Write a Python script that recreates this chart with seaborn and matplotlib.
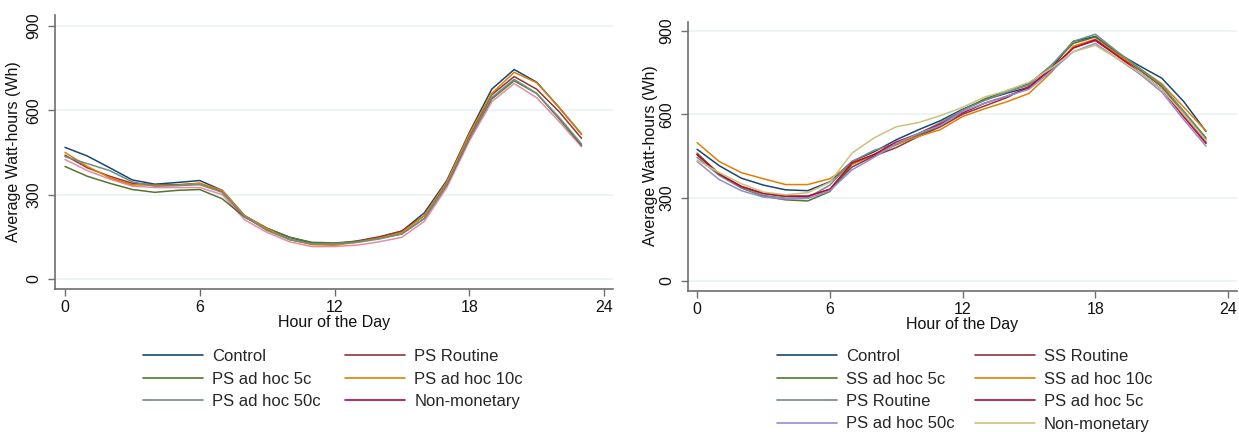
import numpy as np
import pandas as pd
import matplotlib
matplotlib.use("Agg")
import matplotlib.pyplot as plt
import seaborn as sns
from matplotlib.lines import Line2D

hours = list(range(24))

# Left panel (PS treatments)
left_labels = ["Control", "PS Routine", "PS ad hoc 5c", "PS ad hoc 10c", "PS ad hoc 50c", "Non-monetary"]
left_control = [468, 437, 395, 352, 337, 343, 350, 315, 225, 180, 148, 128, 125, 133, 148, 170, 235, 350, 520, 675, 745, 700, 610, 515]
left_ps_routine = [440, 395, 365, 340, 335, 335, 340, 310, 220, 175, 140, 125, 125, 135, 150, 170, 225, 340, 505, 655, 720, 675, 595, 500]
left_ps_5c = [400, 365, 340, 318, 308, 315, 318, 285, 220, 180, 148, 130, 128, 133, 145, 160, 215, 335, 500, 640, 705, 660, 570, 475]
left_ps_10c = [450, 400, 360, 335, 333, 333, 340, 315, 225, 178, 140, 122, 120, 130, 145, 165, 225, 345, 515, 660, 735, 698, 610, 515]
left_ps_50c = [435, 410, 385, 345, 330, 332, 335, 308, 222, 172, 140, 125, 125, 130, 142, 160, 215, 335, 500, 645, 710, 660, 575, 480]
left_nonmon = [425, 385, 355, 330, 325, 325, 325, 300, 210, 165, 132, 115, 115, 120, 132, 148, 205, 325, 490, 630, 695, 645, 560, 470]
left_colors = ["#1a476f", "#90353b", "#55752f", "#e37e00", "#6e8e84", "#c10534"]

# Right panel (SS and PS treatments)
right_labels = ["Control", "SS Routine", "SS ad hoc 5c", "SS ad hoc 10c", "PS Routine", "PS ad hoc 5c", "PS ad hoc 50c", "Non-monetary"]
right_control = [474, 415, 370, 345, 328, 325, 357, 430, 465, 508, 544, 577, 618, 652, 676, 697, 765, 862, 880, 820, 774, 730, 645, 538]
right_ss_routine = [455, 385, 340, 315, 305, 305, 330, 410, 450, 480, 520, 555, 600, 630, 660, 700, 760, 840, 865, 810, 760, 700, 600, 500]
right_ss_5c = [460, 385, 335, 305, 292, 288, 322, 420, 455, 490, 525, 560, 615, 655, 685, 710, 775, 855, 878, 820, 760, 700, 610, 515]
right_ss_10c = [498, 430, 390, 368, 347, 347, 368, 420, 455, 492, 520, 545, 592, 620, 645, 675, 750, 845, 870, 815, 765, 710, 625, 540]
right_ps_routine = [445, 380, 335, 308, 298, 300, 345, 430, 470, 495, 530, 570, 615, 650, 680, 705, 775, 862, 888, 825, 765, 705, 610, 510]
right_ps_5c = [455, 385, 340, 315, 305, 305, 330, 425, 455, 500, 530, 565, 605, 640, 665, 695, 765, 838, 868, 810, 750, 690, 590, 495]
right_ps_50c = [430, 365, 325, 302, 295, 297, 325, 400, 445, 495, 530, 560, 610, 640, 665, 690, 755, 825, 855, 800, 745, 680, 580, 485]
right_nonmon = [435, 390, 350, 320, 310, 318, 355, 460, 515, 555, 570, 595, 625, 662, 685, 715, 765, 825, 848, 800, 750, 690, 600, 505]
right_colors = ["#1a476f", "#90353b", "#55752f", "#e37e00", "#6e8e84", "#c10534", "#938dd2", "#cac27e"]

x_ticks = [0, 6, 12, 18, 24]
y_ticks = [0, 300, 600, 900]

sns.set_theme(style="white")
plt.rcParams["font.family"] = ["Liberation Sans", "DejaVu Sans"]

W, H = 1239, 432
fig = plt.figure(figsize=(W / 100, H / 100), dpi=100)
FS = 11.5


def px_axes(l, t, r, b):
    return fig.add_axes([l / W, 1 - b / H, (r - l) / W, (b - t) / H])


def make_df(labels, series):
    rows = []
    for lab, vals in zip(labels, series):
        for h, v in zip(hours, vals):
            rows.append({"hour": h, "wh": v, "group": lab})
    return pd.DataFrame(rows)


def style_axes(ax, xlim, ylim, ylabel_xy, ypad):
    ax.set_xlim(*xlim)
    ax.set_ylim(*ylim)
    ax.set_xticks(x_ticks)
    ax.set_yticks(y_ticks)
    ax.set_yticklabels([str(t) for t in y_ticks], rotation=90, va="center")
    for s in ["top", "right"]:
        ax.spines[s].set_visible(False)
    for s in ["left", "bottom"]:
        ax.spines[s].set_color("#6e6e6e")
        ax.spines[s].set_linewidth(1.2)
    ax.tick_params(axis="both", which="both", direction="out", length=5, width=1,
                   color="#6e6e6e", labelsize=FS, labelcolor="#111111", pad=3,
                   bottom=True, left=True)
    ax.tick_params(axis="y", pad=ypad)
    ax.grid(False)
    for y in y_ticks:
        ax.axhline(y, color="#eaf2f3", lw=1.2, zorder=0)
    ax.set_xlabel("Hour of the Day", fontsize=FS, labelpad=0, color="#111111")
    ax.set_ylabel("")
    fig.text(ylabel_xy[0] / W, 1 - ylabel_xy[1] / H, "Average Watt-hours (Wh)",
             rotation=90, ha="center", va="center", fontsize=FS, color="#111111")


def add_legend(labels, colors, anchor, colspace):
    handles = [Line2D([], [], color=c, lw=1.2) for c in colors]
    n = len(labels)
    order = list(range(0, n, 2)) + list(range(1, n, 2))
    fig.legend([handles[i] for i in order], [labels[i] for i in order], ncol=2,
               loc="upper left", bbox_to_anchor=(anchor[0] / W, 1 - anchor[1] / H),
               frameon=False, fontsize=12, handlelength=3.6, handletextpad=0.55,
               columnspacing=colspace, labelspacing=0.45, borderpad=0, borderaxespad=0)


# Left
ax1 = px_axes(55, 15, 613, 289)
df1 = make_df(left_labels, [left_control, left_ps_routine, left_ps_5c, left_ps_10c, left_ps_50c, left_nonmon])
sns.lineplot(data=df1, x="hour", y="wh", hue="group", hue_order=left_labels,
             palette=left_colors, lw=1.1, ax=ax1, legend=False)
# the non-monetary line renders lighter in the reference
ax1.get_lines()[5].set_alpha(0.45)
style_axes(ax1, (-0.445, 24.4), (-36, 939), (14, 152), 5)
add_legend(left_labels, left_colors, (143, 349), 1.45)

# Right
ax2 = px_axes(688, 22, 1237, 291)
df2 = make_df(right_labels, [right_control, right_ss_routine, right_ss_5c, right_ss_10c,
                             right_ps_routine, right_ps_5c, right_ps_50c, right_nonmon])
sns.lineplot(data=df2, x="hour", y="wh", hue="group", hue_order=right_labels,
             palette=right_colors, lw=1.1, ax=ax2, legend=False)
style_axes(ax2, (-0.41, 24.4), (-36, 932), (651, 156), 5)
add_legend(right_labels, right_colors, (777, 349), 1.2)

fig.savefig("out.png", dpi=100)
